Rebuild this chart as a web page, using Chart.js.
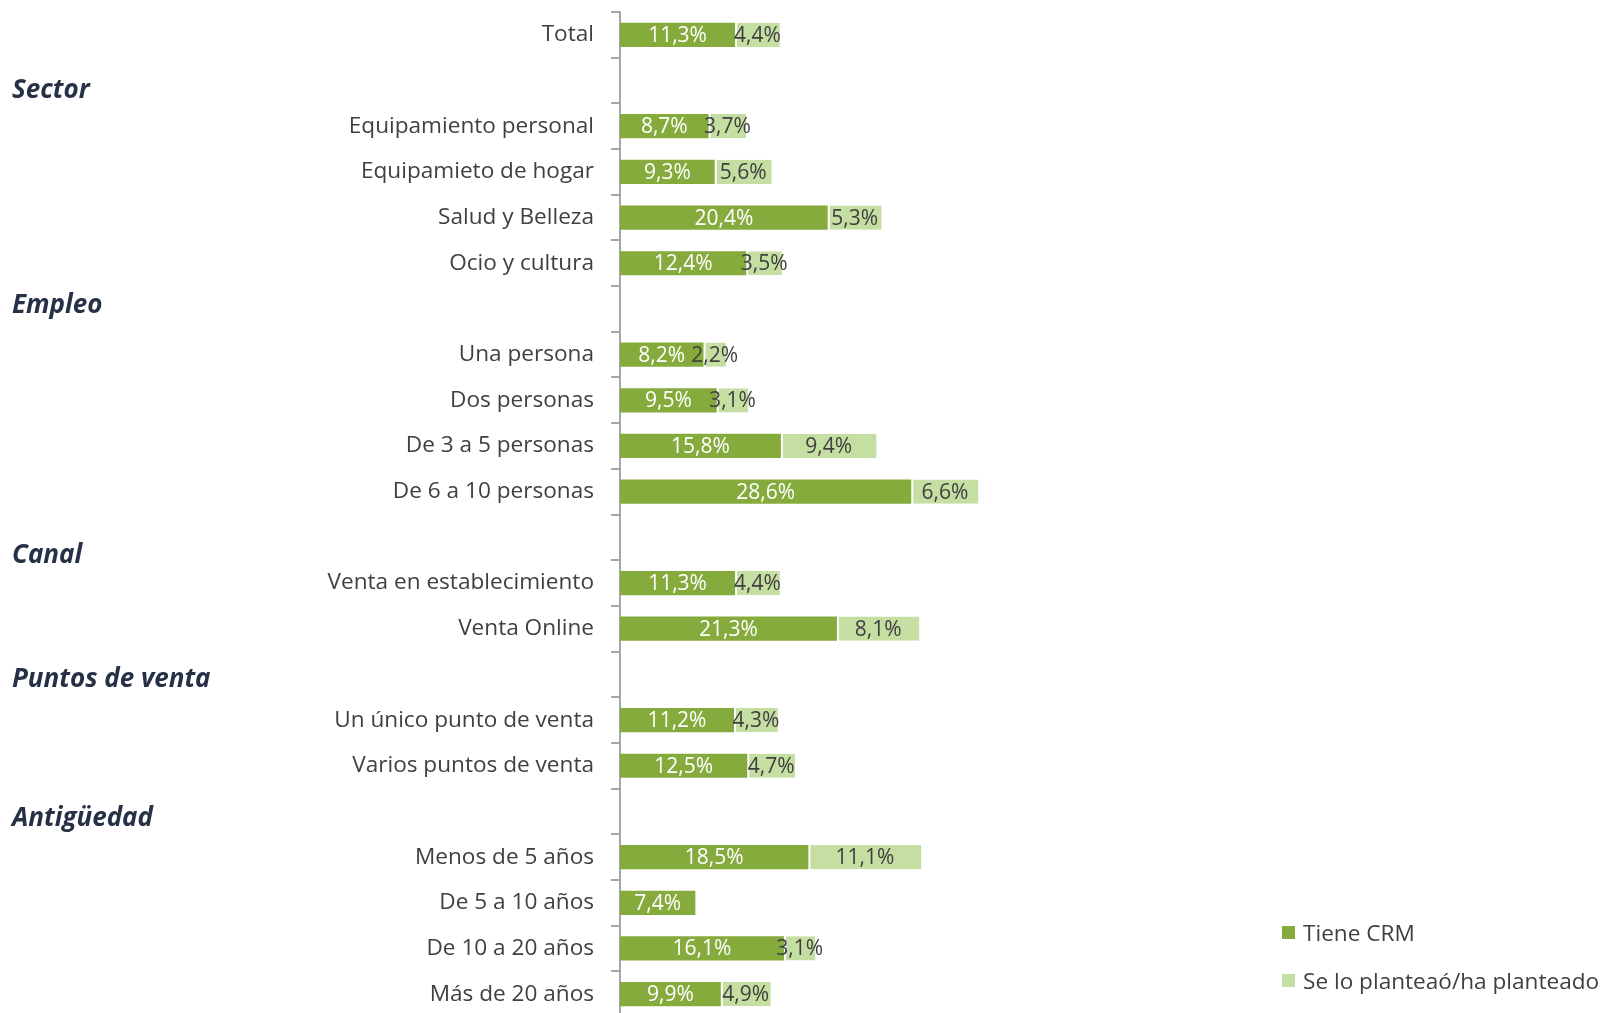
<!DOCTYPE html>
<html>
<head>
<meta charset="utf-8">
<script src="https://cdn.jsdelivr.net/npm/chart.js@4"></script>
<style>
    html, body { margin: 0; padding: 0; background: #fff; overflow: hidden; }
    #wrap { position: relative; width: 1604px; height: 1013px; overflow: hidden; }
    #legend { position: absolute; left: 1282px; top: 908px; font-family: "Open Sans", sans-serif; font-size: 22.6px; color: #404040; }
    #legend div { height: 48px; display: flex; align-items: center; }
    #legend span.box { display: inline-block; width: 13px; height: 13px; margin-right: 8px; }
</style>
</head>
<body>
<div id="wrap">
    <canvas id="crmChart" width="1604" height="1017"></canvas>
    <div id="legend"></div>
</div>
<script>
// categorias (las filas vacías llevan el título del grupo)
const categories = [
    'Total', '',
    'Equipamiento personal', 'Equipamieto de hogar', 'Salud y Belleza', 'Ocio y cultura', '',
    'Una persona', 'Dos personas', 'De 3 a 5 personas', 'De 6 a 10 personas', '',
    'Venta en establecimiento', 'Venta Online', '',
    'Un único punto de venta', 'Varios puntos de venta', '',
    'Menos de 5 años', 'De 5 a 10 años', 'De 10 a 20 años', 'Más de 20 años'
];
const groupHeaders = ['', 'Sector', '', '', '', '', 'Empleo', '', '', '', '', 'Canal', '', '', 'Puntos de venta', '', '', 'Antigüedad', '', '', '', ''];

const seriesNames = ['Tiene CRM', 'Se lo planteaó/ha planteado'];
const tieneCrm = [11.3, null, 8.7, 9.3, 20.4, 12.4, null, 8.2, 9.5, 15.8, 28.6, null, 11.3, 21.3, null, 11.2, 12.5, null, 18.5, 7.4, 16.1, 9.9];
const planteado = [4.4, null, 3.7, 5.6, 5.3, 3.5, null, 2.2, 3.1, 9.4, 6.6, null, 4.4, 8.1, null, 4.3, 4.7, null, 11.1, null, 3.1, 4.9];

const colors = ['#86AB3D', '#C5DEA2'];
const labelColors = ['#ffffff', '#404040'];

function fmt(v) {
    return v.toFixed(1).replace('.', ',') + '%';
}

// etiquetas de valor dentro de las barras
const valueLabels = {
    id: 'valueLabels',
    afterDatasetsDraw(chart) {
        const ctx = chart.ctx;
        ctx.save();
        ctx.font = '21px "Open Sans"';
        ctx.textAlign = 'center';
        ctx.textBaseline = 'middle';
        chart.data.datasets.forEach((ds, di) => {
            const meta = chart.getDatasetMeta(di);
            meta.data.forEach((bar, i) => {
                const v = ds.data[i];
                if (v === null || v === undefined) return;
                const x = (bar.x + bar.base) / 2;
                ctx.fillStyle = labelColors[di];
                ctx.fillText(fmt(v), x, bar.y + 1);
            });
        });
        ctx.restore();
    }
};

// títulos de grupo a la izquierda (los cuadros de texto no están centrados en la fila)
const headerNudge = { 'Sector': 10, 'Empleo': -3, 'Canal': 18, 'Puntos de venta': 5, 'Antigüedad': 7 };
const headers = {
    id: 'headers',
    afterDraw(chart) {
        const ctx = chart.ctx;
        const y = chart.scales.y;
        ctx.save();
        ctx.font = 'italic bold 26px "Open Sans"';
        ctx.fillStyle = '#263147';
        ctx.textAlign = 'left';
        ctx.textBaseline = 'middle';
        groupHeaders.forEach((h, i) => {
            if (!h) return;
            ctx.fillText(h, 12, y.getPixelForValue(i) + (headerNudge[h] || 0));
        });
        ctx.restore();
    }
};

new Chart(document.getElementById('crmChart'), {
    type: 'bar',
    data: {
        labels: categories,
        datasets: [
            {
                label: seriesNames[0],
                data: tieneCrm,
                backgroundColor: colors[0],
                borderWidth: 0
            },
            {
                label: seriesNames[1],
                data: planteado,
                backgroundColor: colors[1],
                borderColor: '#ffffff',
                borderWidth: { left: 2, right: 0, top: 0, bottom: 0 },
                borderSkipped: false
            }
        ]
    },
    options: {
        indexAxis: 'y',
        responsive: false,
        animation: false,
        barPercentage: 0.53,
        categoryPercentage: 1,
        layout: { padding: { top: 12, right: 373, bottom: 0, left: 0 } },
        plugins: {
            legend: { display: false },
            tooltip: { enabled: false }
        },
        scales: {
            x: {
                stacked: true,
                display: false,
                min: 0,
                max: 60
            },
            y: {
                stacked: true,
                afterFit: s => { s.width = 620; s.paddingTop = 0; s.paddingBottom = 0; },
                grid: {
                    offset: true,
                    drawOnChartArea: false,
                    drawTicks: true,
                    tickLength: 9,
                    color: '#A6A6A6',
                    lineWidth: 2
                },
                border: { display: true, color: '#A6A6A6', width: 2 },
                ticks: {
                    padding: 17,
                    color: '#404040',
                    font: { family: '"Open Sans"', size: 22.6 },
                    autoSkip: false
                }
            }
        }
    },
    plugins: [valueLabels, headers]
});

// leyenda
const legendEl = document.getElementById('legend');
seriesNames.forEach((name, i) => {
    legendEl.insertAdjacentHTML('beforeend',
        `<div><span class="box" style="background:${colors[i]}"></span>${name}</div>`);
});
</script>
</body>
</html>
